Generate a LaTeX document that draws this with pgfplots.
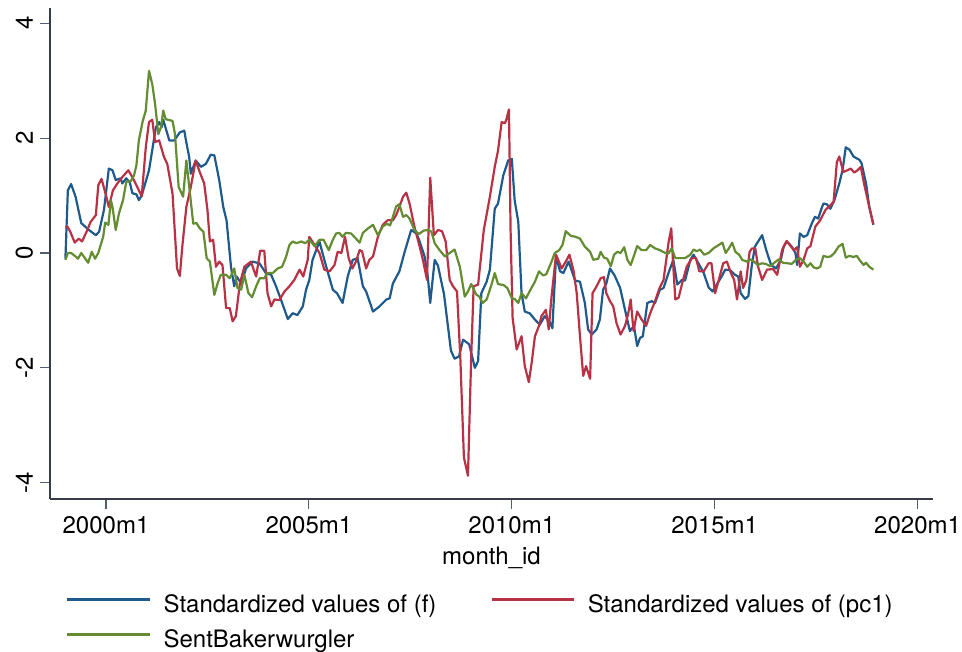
\documentclass[border=0pt]{standalone}
\usepackage{fontspec}
\setmainfont{TeX Gyre Heros}
\usepackage{pgfplots}
\pgfplotsset{compat=1.18}
\definecolor{fcol}{RGB}{31,90,140}
\definecolor{pccol}{RGB}{184,50,70}
\definecolor{sbcol}{RGB}{100,140,50}
\definecolor{axgray}{RGB}{55,60,70}
\definecolor{tkgray}{RGB}{80,95,110}
\begin{document}
\begin{tikzpicture}
\useasboundingbox (-25pt,-76.5pt) rectangle (456pt,249.5pt);
\begin{axis}[
  at={(0,0)}, anchor=south west,
  scale only axis, width=441.5pt, height=245.5pt,
  xmin=1998.62, xmax=2020.38, ymin=-4.284, ymax=4.266,
  axis lines*=left,
  axis line style={color=axgray, line width=0.6pt},
  tick style={color=tkgray, line width=0.6pt},
  tick align=outside, major tick length=5pt,
  xtick={2000,2005,2010,2015,2020},
  xticklabels={2000m1,2005m1,2010m1,2015m1,2020m1},
  ytick={-4,-2,0,2,4},
  yticklabels={-4,-2,0,2,4},
  yticklabel style={rotate=90, anchor=south},
  font=\fontsize{12}{14.4}\selectfont,
  xlabel={month\_id},
  legend columns=2,
  legend cell align=left,
  legend image code/.code={\draw[#1] (0pt,3.5pt) -- (41pt,3.5pt);},
  legend style={draw=none, fill=none, at={(0,0)}, anchor=north west,
    xshift=5pt, yshift=-45.5pt,
    font=\fontsize{12}{14.4}\selectfont,
    nodes={inner sep=0pt, text height=9pt, text depth=3pt},
    row sep=5.5pt,
    /tikz/every odd column/.append style={column sep=6.5pt}},
  every axis plot/.append style={line width=1.1pt, line join=round},
]
\addplot[fcol] table {
1999.00 -0.10
1999.06 1.09
1999.14 1.20
1999.25 0.98
1999.39 0.52
1999.58 0.40
1999.75 0.31
1999.83 0.37
1999.95 0.75
2000.07 1.47
2000.16 1.44
2000.24 1.27
2000.36 1.30
2000.40 1.21
2000.50 1.30
2000.59 1.22
2000.65 1.04
2000.75 1.02
2000.81 0.92
2000.88 1.00
2001.06 1.44
2001.23 2.19
2001.31 2.28
2001.37 2.19
2001.41 2.32
2001.56 1.96
2001.68 1.96
2001.82 2.10
2001.93 2.13
2001.97 1.96
2002.05 1.67
2002.09 1.38
2002.21 1.61
2002.34 1.50
2002.46 1.55
2002.58 1.71
2002.67 1.70
2002.79 1.27
2002.89 0.80
2002.97 0.57
2003.08 -0.24
2003.16 -0.58
2003.22 -0.41
2003.33 -0.53
2003.45 -0.27
2003.61 -0.15
2003.78 -0.18
2003.94 -0.35
2004.07 -0.38
2004.19 -0.58
2004.31 -0.81
2004.48 -1.15
2004.60 -1.05
2004.72 -1.08
2004.85 -0.93
2004.93 -0.64
2005.01 -0.47
2005.09 -0.12
2005.18 0.05
2005.26 0.20
2005.38 -0.12
2005.59 -0.64
2005.69 -0.70
2005.83 -0.87
2005.96 -0.40
2006.08 -0.12
2006.20 -0.09
2006.33 -0.58
2006.41 -0.67
2006.58 -1.02
2006.74 -0.93
2006.91 -0.81
2006.99 -0.79
2007.07 -0.53
2007.23 -0.32
2007.36 0.02
2007.52 0.40
2007.65 0.34
2007.73 0.20
2007.85 -0.06
2007.93 -0.41
2007.99 -0.87
2008.10 -0.12
2008.18 -0.22
2008.33 -0.72
2008.50 -1.70
2008.59 -1.84
2008.70 -1.80
2008.80 -1.51
2008.95 -1.59
2009.09 -2.00
2009.17 -1.88
2009.25 -0.70
2009.38 -0.50
2009.46 -0.29
2009.58 0.77
2009.66 0.86
2009.79 1.35
2009.91 1.61
2010.00 1.64
2010.07 0.92
2010.16 0.54
2010.24 -0.70
2010.32 -1.02
2010.44 -1.05
2010.57 -1.16
2010.69 -1.25
2010.81 -1.10
2010.94 -1.21
2011.00 -1.31
2011.09 -0.06
2011.19 -0.32
2011.27 -0.35
2011.40 -0.15
2011.56 -0.48
2011.68 -0.50
2011.80 -0.87
2011.88 -1.33
2011.97 -1.42
2012.09 -1.33
2012.17 -1.16
2012.25 -0.64
2012.33 -0.53
2012.42 -0.27
2012.54 -0.40
2012.67 -0.61
2012.79 -0.99
2012.91 -1.36
2013.01 -1.27
2013.09 -1.62
2013.16 -1.48
2013.23 -1.45
2013.34 -0.87
2013.45 -0.84
2013.53 -0.87
2013.65 -0.64
2013.74 -0.61
2013.86 -0.35
2013.98 -0.12
2014.08 -0.55
2014.19 -0.47
2014.27 -0.48
2014.40 -0.12
2014.48 -0.03
2014.60 -0.18
2014.73 -0.35
2014.85 -0.60
2014.95 -0.67
2015.05 -0.55
2015.17 -0.41
2015.26 -0.29
2015.38 -0.30
2015.50 -0.38
2015.58 -0.41
2015.64 -0.70
2015.75 -0.80
2015.83 -0.75
2015.91 -0.24
2015.99 0.11
2016.07 0.20
2016.17 0.31
2016.27 0.05
2016.39 -0.21
2016.51 -0.27
2016.63 -0.12
2016.70 0.11
2016.78 0.20
2016.90 0.11
2016.99 0.00
2017.03 -0.21
2017.10 0.34
2017.19 0.28
2017.28 0.31
2017.39 0.51
2017.47 0.63
2017.55 0.60
2017.63 0.77
2017.68 0.86
2017.76 0.85
2017.85 0.77
2017.95 0.92
2018.07 1.21
2018.15 1.44
2018.23 1.84
2018.32 1.80
2018.42 1.68
2018.57 1.62
2018.62 1.56
2018.73 1.21
2018.81 0.80
2018.91 0.49
};
\addlegendentry{\makebox[163.5pt][l]{Standardized values of (f)}}
\addplot[pccol] table {
1999.00 0.45
1999.05 0.46
1999.12 0.37
1999.23 0.18
1999.33 0.25
1999.41 0.20
1999.54 0.40
1999.62 0.54
1999.75 0.66
1999.81 1.18
1999.89 1.29
1999.99 1.03
2000.07 0.80
2000.17 1.09
2000.28 1.21
2000.40 1.32
2000.55 1.44
2000.65 1.32
2000.77 1.15
2000.88 0.99
2000.98 1.84
2001.06 2.28
2001.14 2.32
2001.21 1.93
2001.31 1.96
2001.43 1.67
2001.51 1.55
2001.64 1.03
2001.75 -0.27
2001.82 -0.40
2001.88 0.11
2001.98 0.80
2002.09 1.15
2002.21 1.61
2002.31 1.41
2002.42 1.21
2002.50 0.75
2002.56 0.20
2002.64 0.23
2002.71 -0.24
2002.79 -0.15
2002.87 -0.21
2002.96 -0.96
2003.05 -0.96
2003.12 -1.19
2003.20 -1.10
2003.30 -0.53
2003.41 -0.24
2003.57 -0.15
2003.70 -0.41
2003.80 0.04
2003.90 0.04
2003.98 -0.70
2004.07 -0.93
2004.15 -0.81
2004.27 -0.82
2004.40 -0.67
2004.52 -0.58
2004.64 -0.47
2004.77 -0.29
2004.86 -0.41
2004.97 -0.12
2005.01 0.28
2005.14 0.14
2005.26 0.00
2005.38 -0.29
2005.51 -0.32
2005.63 -0.21
2005.71 0.02
2005.80 0.00
2005.89 0.28
2005.98 -0.09
2006.07 -0.27
2006.16 -0.15
2006.25 0.05
2006.31 0.03
2006.41 -0.27
2006.49 -0.12
2006.58 -0.06
2006.70 0.28
2006.82 0.49
2006.94 0.57
2007.07 0.57
2007.15 0.66
2007.23 0.80
2007.32 0.98
2007.40 1.05
2007.48 0.86
2007.60 0.46
2007.73 0.11
2007.81 -0.12
2007.91 -0.47
2007.99 1.31
2008.08 0.31
2008.18 0.40
2008.28 0.38
2008.37 0.20
2008.47 -0.47
2008.55 -0.58
2008.65 -0.67
2008.73 -1.80
2008.82 -3.56
2008.92 -3.88
2009.00 -1.80
2009.06 -0.58
2009.17 -0.55
2009.31 0.40
2009.46 0.98
2009.58 1.50
2009.66 1.78
2009.75 2.28
2009.83 2.26
2009.87 2.33
2009.93 2.50
2009.97 0.40
2010.02 -1.13
2010.12 -1.68
2010.24 -1.45
2010.32 -1.97
2010.42 -2.25
2010.49 -1.91
2010.57 -1.45
2010.67 -1.27
2010.73 -1.10
2010.84 -0.99
2010.91 -1.33
2010.98 -0.76
2011.09 -0.03
2011.23 -0.27
2011.33 -0.15
2011.42 -0.03
2011.52 -0.30
2011.60 -0.70
2011.68 -1.45
2011.76 -2.14
2011.83 -1.97
2011.93 -2.19
2011.99 -0.70
2012.09 -0.58
2012.19 -0.44
2012.27 -0.42
2012.33 -0.70
2012.42 -0.84
2012.50 -0.93
2012.58 -1.22
2012.68 -1.42
2012.79 -1.27
2012.87 -1.05
2012.93 -0.81
2013.00 -1.36
2013.09 -1.02
2013.20 -1.16
2013.31 -1.27
2013.41 -1.05
2013.53 -0.84
2013.64 -0.61
2013.74 -0.47
2013.86 0.17
2013.93 0.43
2013.97 -0.12
2014.03 -0.81
2014.11 -0.78
2014.22 -0.47
2014.31 -0.24
2014.44 -0.09
2014.54 -0.09
2014.62 -0.32
2014.73 -0.32
2014.85 -0.18
2014.92 -0.18
2015.01 -0.70
2015.10 -0.47
2015.21 -0.18
2015.30 -0.15
2015.40 -0.35
2015.48 -0.47
2015.55 -0.81
2015.64 -0.32
2015.70 -0.61
2015.78 -0.47
2015.86 0.02
2015.92 0.08
2016.00 0.08
2016.07 -0.24
2016.17 -0.47
2016.29 -0.29
2016.44 -0.28
2016.54 -0.38
2016.66 0.05
2016.77 0.21
2016.86 0.13
2016.95 0.05
2017.03 0.10
2017.10 -0.24
2017.19 -0.12
2017.28 0.08
2017.36 0.12
2017.48 0.46
2017.60 0.57
2017.73 0.75
2017.85 0.83
2017.93 0.89
2018.01 1.58
2018.07 1.68
2018.17 1.41
2018.27 1.44
2018.35 1.47
2018.44 1.40
2018.52 1.44
2018.60 1.50
2018.68 1.21
2018.81 0.80
2018.91 0.50
};
\addlegendentry{Standardized values of (pc1)}
\addplot[sbcol] table {
1999.00 -0.12
1999.06 0.00
1999.14 0.00
1999.25 -0.06
1999.31 -0.10
1999.39 0.00
1999.48 -0.09
1999.56 -0.17
1999.65 0.02
1999.73 -0.10
1999.81 0.00
1999.93 0.28
1999.98 0.53
2000.06 0.49
2000.12 0.92
2000.16 0.80
2000.24 0.40
2000.32 0.69
2000.42 0.92
2000.50 1.24
2000.61 1.25
2000.69 1.35
2000.75 1.53
2000.81 1.96
2000.90 2.28
2000.98 2.48
2001.06 3.17
2001.14 2.94
2001.21 2.59
2001.29 2.07
2001.36 2.20
2001.41 2.48
2001.47 2.33
2001.64 2.30
2001.70 2.07
2001.79 1.15
2001.90 0.98
2001.98 1.61
2002.07 1.03
2002.15 0.51
2002.23 0.52
2002.31 0.43
2002.40 0.37
2002.48 -0.09
2002.56 -0.15
2002.67 -0.73
2002.75 -0.53
2002.83 -0.38
2002.96 -0.38
2003.05 -0.44
2003.16 -0.27
2003.24 -0.61
2003.33 -0.64
2003.41 -0.38
2003.51 -0.70
2003.60 -0.77
2003.70 -0.58
2003.79 -0.44
2003.90 -0.44
2003.98 -0.35
2004.11 -0.35
2004.23 -0.27
2004.34 -0.24
2004.44 -0.06
2004.52 0.14
2004.60 0.20
2004.69 0.17
2004.81 0.20
2004.91 0.17
2005.01 0.23
2005.14 0.12
2005.26 0.23
2005.36 0.23
2005.49 0.05
2005.59 0.23
2005.67 0.34
2005.75 0.35
2005.83 0.28
2005.91 0.35
2006.04 0.34
2006.16 0.25
2006.25 0.18
2006.33 0.35
2006.46 0.43
2006.58 0.49
2006.70 0.31
2006.82 0.46
2006.92 0.51
2007.00 0.48
2007.07 0.63
2007.15 0.81
2007.23 0.85
2007.32 0.63
2007.40 0.66
2007.48 0.60
2007.60 0.40
2007.71 0.33
2007.83 0.39
2007.93 0.40
2008.02 0.37
2008.10 0.17
2008.22 0.05
2008.35 -0.06
2008.47 0.00
2008.59 0.06
2008.72 -0.24
2008.84 -0.76
2008.92 -0.67
2009.00 -0.54
2009.12 -0.72
2009.20 -0.76
2009.28 -0.87
2009.38 -0.81
2009.50 -0.55
2009.58 -0.35
2009.66 -0.54
2009.80 -0.56
2009.89 -0.61
2010.00 -0.79
2010.07 -0.80
2010.16 -0.87
2010.24 -0.70
2010.35 -0.79
2010.46 -0.64
2010.57 -0.50
2010.67 -0.32
2010.77 -0.39
2010.85 -0.37
2010.98 -0.15
2011.06 0.00
2011.17 0.05
2011.25 0.14
2011.33 0.38
2011.45 0.30
2011.58 0.28
2011.68 0.25
2011.80 0.11
2011.93 0.02
2012.01 -0.12
2012.13 -0.10
2012.19 0.02
2012.27 -0.08
2012.35 -0.10
2012.44 -0.23
2012.52 -0.03
2012.60 0.02
2012.68 0.00
2012.77 0.10
2012.85 -0.12
2012.93 -0.21
2013.01 -0.05
2013.09 0.12
2013.20 0.05
2013.31 0.05
2013.41 0.14
2013.53 0.08
2013.65 0.05
2013.78 0.00
2013.86 -0.01
2013.94 0.08
2014.03 -0.09
2014.15 -0.09
2014.27 -0.09
2014.40 -0.03
2014.48 0.06
2014.56 0.03
2014.64 0.06
2014.74 -0.03
2014.85 0.00
2014.97 0.08
2015.10 0.14
2015.19 0.18
2015.27 0.00
2015.35 0.08
2015.43 0.18
2015.51 0.02
2015.60 -0.03
2015.68 -0.12
2015.79 -0.15
2015.88 -0.11
2015.97 -0.15
2016.06 -0.21
2016.16 -0.18
2016.26 -0.19
2016.37 -0.23
2016.47 -0.17
2016.58 -0.11
2016.68 -0.17
2016.80 -0.18
2016.90 -0.19
2017.00 -0.12
2017.10 -0.09
2017.19 -0.15
2017.28 -0.24
2017.36 -0.18
2017.44 -0.25
2017.52 -0.27
2017.60 -0.24
2017.68 -0.05
2017.77 -0.07
2017.86 -0.06
2017.95 0.00
2018.05 0.11
2018.15 0.16
2018.23 -0.08
2018.32 -0.05
2018.42 -0.07
2018.50 -0.05
2018.58 -0.13
2018.67 -0.21
2018.73 -0.17
2018.81 -0.24
2018.91 -0.29
};
\addlegendentry{SentBakerwurgler}
\end{axis}
\end{tikzpicture}
\end{document}
